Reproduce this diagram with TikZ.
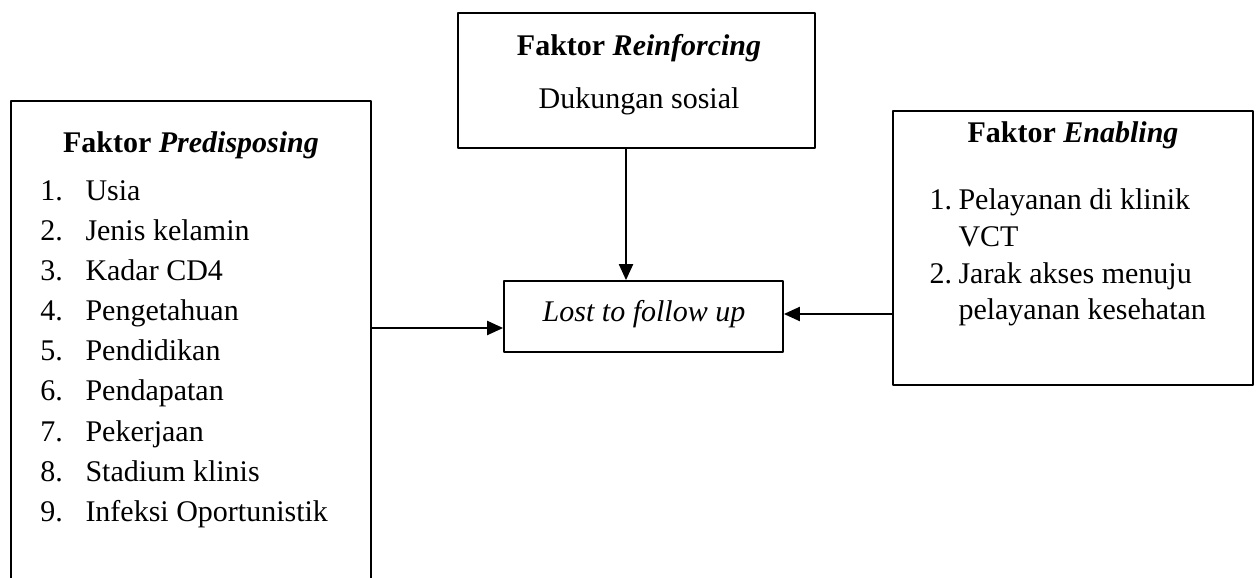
\documentclass[tikz,border=0pt]{standalone}
\usepackage{fontspec}
\setmainfont{Liberation Serif}
\usetikzlibrary{arrows.meta,fit}
\tikzset{
  box/.style={draw, line width=0.75pt, inner sep=0pt},
  txt/.style={anchor=base, inner sep=0pt, font=\fontsize{12}{14}\selectfont},
  itm/.style={anchor=base west, inner sep=0pt, font=\fontsize{12}{14}\selectfont},
  arr/.style={line width=0.6pt, -{Triangle[length=6.4pt,width=5.7pt]}},
}
\begin{document}
\begin{tikzpicture}[x=0.4pt,y=-0.4pt,line join=round]
  % Page frame in reference pixels, y runs down.
  \useasboundingbox (0,0) rectangle (1259,578);

  % Box frames; the left one runs off the bottom edge.
  \node[box, fit={(11,101) (371,640)}] (pred) {};
  \node[box, fit={(458,13) (815,148)}] (reinf) {};
  \node[box, fit={(893,111) (1253,385)}] (enab) {};
  \node[box, fit={(504,281) (783,352)}] (lost) {};

  % Predisposing list.
  \node[txt] (predhead) at (191,153) {\textbf{Faktor \textit{Predisposing}}};
  \foreach \name [count=\i] in {Usia, Jenis kelamin, Kadar CD4, Pengetahuan,
      Pendidikan, Pendapatan, Pekerjaan, Stadium klinis, Infeksi Oportunistik} {
    \node[itm] (pnum\i) at (40,{201+40*(\i-1)}) {\i.};
    \node[itm] (pitem\i) at (85,{201+40*(\i-1)}) {\name};
  }

  % Reinforcing box.
  \node[txt] (reinfhead) at (639,56) {\textbf{Faktor \textit{Reinforcing}}};
  \node[txt] (reinfitem) at (639,109) {Dukungan sosial};

  % Enabling list, items wrap onto a second line.
  \node[txt] (enabhead) at (1073,143) {\textbf{Faktor \textit{Enabling}}};
  \node[itm] (enum1) at (929,210) {1.};
  \node[itm] (eitem1) at (958,210) {Pelayanan di klinik};
  \node[itm] (eitem1b) at (958,247) {VCT};
  \node[itm] (enum2) at (929,283.5) {2.};
  \node[itm] (eitem2) at (958,283.5) {Jarak akses menuju};
  \node[itm] (eitem2b) at (958,320) {pelayanan kesehatan};

  % Outcome.
  \node[txt] (losttext) at (644,322) {\textit{Lost to follow up}};

  % Connectors.
  \coordinate (tdrop) at (626,0);
  \draw[arr] (reinf.south -| tdrop) -- (lost.north -| tdrop);
  \coordinate (lrow) at (0,328);
  \draw[arr] (pred.east |- lrow) -- (lost.west |- lrow);
  \coordinate (rrow) at (0,314);
  \draw[arr] (enab.west |- rrow) -- (lost.east |- rrow);
\end{tikzpicture}
\end{document}
